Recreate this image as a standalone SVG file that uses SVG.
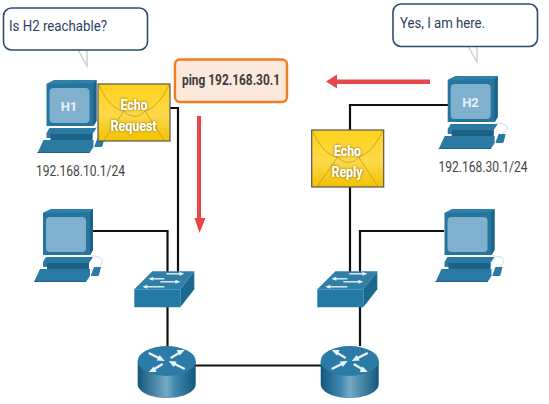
<svg xmlns="http://www.w3.org/2000/svg" xmlns:xlink="http://www.w3.org/1999/xlink" width="549" height="404" viewBox="0 0 549 404">
<style>
text{font-family:Roboto,"Liberation Sans",Arial,sans-serif}
.link{fill:none;stroke:#111;stroke-width:2.2}
.bubble{fill:#fff;stroke:#2f4a72;stroke-width:1.6}
.tail{fill:#fff;stroke:#c4c8cc;stroke-width:1.2}
.say{font-size:15px;fill:#2a3f63}
.ip{font-size:14px;fill:#444;text-anchor:middle}
.host{font-size:13px;font-weight:bold;fill:#e8f2f8;text-anchor:middle}
.env{font-size:14px;font-weight:bold;fill:#fff;text-anchor:middle;filter:url(#glow)}
.red{fill:#e8474a}
</style>
<defs>
<linearGradient id="gold" x1="0" y1="0" x2="0" y2="1"><stop offset="0" stop-color="#ffd21a"/><stop offset="0.55" stop-color="#fdd84a"/><stop offset="1" stop-color="#f3c200"/></linearGradient>
<linearGradient id="cyl" x1="0" y1="0" x2="1" y2="0"><stop offset="0" stop-color="#14577c"/><stop offset="0.5" stop-color="#74a9c6"/><stop offset="0.65" stop-color="#3f88ae"/><stop offset="1" stop-color="#14577c"/></linearGradient>
<filter id="glow" x="-30%" y="-30%" width="160%" height="160%"><feGaussianBlur in="SourceAlpha" stdDeviation="1.6" result="b"/><feFlood flood-color="#8a6a00"/><feComposite in2="b" operator="in"/><feMerge><feMergeNode/><feMergeNode in="SourceGraphic"/></feMerge></filter>
<symbol id="pc" overflow="visible" width="70" height="80">
<path d="M0 4 8 0H50V41L47 46H0Z" fill="#25759f"/>
<path d="M47 3 50 0V41L47 46Z" fill="#1b6286"/>
<path d="M0 4 8 0H50L47 3Z" fill="#2f80aa"/>
<rect x="3" y="8" width="40" height="35" rx="4" fill="#7fb0cd"/>
<path d="M0 53 3 48H50L46 54V58H0Z" fill="#2a7aa4"/>
<rect x="4" y="54" width="42" height="6" fill="#1b6286"/>
<path d="M-3 60H47V67L43 73H-9Z" fill="#2a7aa4"/>
<path d="M-9 72H43V73H-9Z" fill="#1b6286"/>
<path d="M48 66 51 58H58L56 66 55 67H48Z" fill="#2a7aa4"/>
<path d="M48 47C62 47 62 54 54 58" fill="none" stroke="#b5d4e5" stroke-width="0.8"/>
</symbol>
<symbol id="switch" overflow="visible" width="60" height="36">
<path d="M0 18H46V36H0Z" fill="#247aa5"/>
<path d="M0 18 18 0H60L46 18Z" fill="#2f7fa8"/>
<path d="M46 18 60 0V18L46 36Z" fill="#1c6990"/>
<g fill="none" stroke="#e8f1f5" stroke-width="1.4">
<path d="M32 2.500H48"/><path d="M16 7.500H30"/><path d="M26 10.500H44"/><path d="M10 15.500H30"/>
</g>
<g fill="#e8f1f5">
<path d="M50 2.500 45 0.500V4.500Z"/><path d="M14 7.500 19 5.500V9.500Z"/><path d="M46 10.500 41 8.500V12.500Z"/><path d="M8 15.500 13 13.500V17.500Z"/>
</g>
</symbol>
<symbol id="router" overflow="visible" width="58" height="52">
<path d="M0 15V38C0 46 13 52 29 52S58 46 58 38V15Z" fill="url(#cyl)"/>
<ellipse cx="29" cy="15" rx="29" ry="15" fill="#2a7ba5"/>
<g fill="none" stroke="#eef5f8" stroke-width="2.400">
<path d="M11 7 23 13"/><path d="M47 23 35 17"/><path d="M15 24 25 18"/><path d="M33 12 43 6"/>
</g>
<g fill="#eef5f8">
<path d="M27 15 19 14.500 22 9Z"/><path d="M31 15 39 15.500 36 21Z"/><path d="M11 26 19 26 16 20.500Z"/><path d="M47 4 39 4 42 9.500Z"/>
</g>
</symbol>
<symbol id="envelope" overflow="visible" width="72" height="57">
<rect x="0" y="0" width="72" height="57" fill="url(#gold)" stroke="#555" stroke-width="1.2"/>
<path d="M1 1C8 18 18 26 26 27C32 34 42 34 47 27C56 24 64 16 71 1M26 27 6 56M47 27 66 56" fill="none" stroke="#c49a12" stroke-width="0.8"/>
</symbol>
</defs>
<g id="connectors">
<path class="link" d="M170 108H178V272"/>
<path class="link" d="M93 231H167.500V272"/>
<path class="link" d="M167.500 307V346"/>
<path class="link" d="M195 365.500H321"/>
<path class="link" d="M360 307V346"/>
<path class="link" d="M444 231H360V272"/>
<path class="link" d="M448 105H350V272"/>
</g>
<g id="pc-h1"><use href="#pc" x="46.500" y="80"/><text class="host" x="69" y="111">H1</text></g>
<g id="pc-h2"><use href="#pc" x="447.700" y="76"/><text class="host" x="470.500" y="107">H2</text></g>
<g id="pc-left"><use href="#pc" x="43" y="209"/></g>
<g id="pc-right"><use href="#pc" x="444.500" y="209"/></g>
<g id="switch-left"><use href="#switch" x="134.300" y="271.300"/></g>
<g id="switch-right"><use href="#switch" x="317.300" y="271.300"/></g>
<g id="router-left"><use href="#router" x="137.700" y="346"/></g>
<g id="router-right"><use href="#router" transform="translate(378.700 346) scale(-1 1)"/></g>
<g id="echo-request"><use href="#envelope" x="98" y="84"/><text class="env" x="134" y="110" textLength="27" lengthAdjust="spacingAndGlyphs">Echo</text><text class="env" x="133.500" y="131" textLength="46" lengthAdjust="spacingAndGlyphs">Request</text></g>
<g id="echo-reply"><use href="#envelope" x="311.700" y="130"/><text class="env" x="347.500" y="156" textLength="27" lengthAdjust="spacingAndGlyphs">Echo</text><text class="env" x="347" y="177" textLength="31" lengthAdjust="spacingAndGlyphs">Reply</text></g>
<g id="bubble-h1"><path class="tail" d="M78 50 87 66V50"/><rect class="bubble" x="3.500" y="8" width="144" height="42" rx="8"/><text class="say" x="9" y="31" textLength="98" lengthAdjust="spacingAndGlyphs">Is H2 reachable?</text></g>
<g id="bubble-h2"><path class="tail" d="M468 46 477 62V46"/><rect class="bubble" x="393" y="4" width="144.500" height="42.500" rx="8"/><text class="say" x="400" y="27.500" textLength="85" lengthAdjust="spacingAndGlyphs">Yes, I am here.</text></g>
<g id="ping-box"><rect x="175" y="59.500" width="112" height="42.500" rx="5" fill="#fde8dc" stroke="#f47b20" stroke-width="2.400"/><text x="231" y="85" font-size="14" font-weight="bold" fill="#3c3c3c" text-anchor="middle" textLength="98" lengthAdjust="spacingAndGlyphs">ping 192.168.30.1</text></g>
<g id="label-h1"><text class="ip" x="80.500" y="176" textLength="89" lengthAdjust="spacingAndGlyphs">192.168.10.1/24</text></g>
<g id="label-h2"><text class="ip" x="483" y="172" textLength="89" lengthAdjust="spacingAndGlyphs">192.168.30.1/24</text></g>
<g id="arrow-down"><path class="red" d="M197 116H201V218H205.500L199.500 233 194.500 218H197Z"/></g>
<g id="arrow-left"><path class="red" d="M430 79.500V84H337V88.500L326 81.500 337 74.500V79.500Z"/></g>
</svg>
